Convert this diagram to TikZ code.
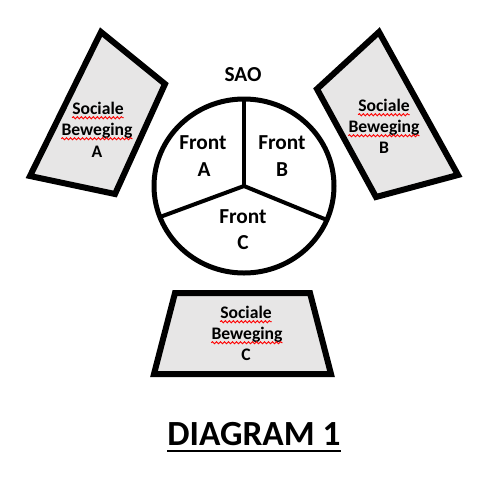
\documentclass[tikz,border=0pt]{standalone}
\usepackage{fontspec}
\setmainfont{Carlito}
\usetikzlibrary{decorations.pathmorphing}
\definecolor{panelgray}{HTML}{E7E6E6}
\begin{document}
\begin{tikzpicture}[x=0.75pt,y=-0.75pt,
  panel/.style={draw=black, line width=4.5pt, fill=panelgray, line join=miter},
  ringfill/.style={fill=white},
  ringline/.style={draw=black, line width=3.75pt},
  divider/.style={draw=black, line width=3pt},
  word/.style={font=\bfseries\fontsize{13.2}{15}\selectfont, inner sep=0pt, anchor=base},
  frontlbl/.style={font=\bfseries\fontsize{16}{20}\selectfont, inner sep=0pt, anchor=base},
  titlelbl/.style={font=\bfseries\fontsize{26.5}{30}\selectfont, inner sep=0pt, anchor=base},
  squiggle/.style={draw=red, line width=0.7pt, decorate, decoration={snake, amplitude=0.8pt, segment length=3pt}}
]
\useasboundingbox (0,0) rectangle (479,476);

% panels
\draw[panel] (101,32) -- (165,84) -- (115,194) -- (30,176) -- cycle;
\draw[panel] (379,32) -- (458,175) -- (376,197) -- (317,89) -- cycle;
\draw[panel] (175,293) -- (310,293) -- (331,374) -- (154,374) -- cycle;

% circle
\coordinate (ctr) at (244,186);
\coordinate (dtop) at (244,99);
\coordinate (dleft) at (160,217);
\coordinate (dright) at (327,220);
\fill[ringfill] (ctr) ellipse [x radius=67.5pt, y radius=65.25pt];
\draw[divider] (ctr) -- (dtop);
\draw[divider] (ctr) -- (dleft);
\draw[divider] (ctr) -- (dright);
\draw[ringline] (ctr) ellipse [x radius=67.5pt, y radius=65.25pt];

% SAO
\node[frontlbl] (sao) at (243,81) {SAO};

% fronts
\node[frontlbl] (fa1) at (203,149) {Front};
\node[frontlbl] (fa2) at (204,176) {A};
\node[frontlbl] (fb1) at (282,149) {Front};
\node[frontlbl] (fb2) at (282,176) {B};
\node[frontlbl] (fc1) at (243,223) {Front};
\node[frontlbl] (fc2) at (243,249) {C};

% panel A text
\node[word] (sa1) at (98,114) {Sociale};
\node[word] (sa2) at (97,135) {Beweging};
\node[word] (sa3) at (97,157) {A};
% panel B text
\node[word] (sb1) at (384,111) {Sociale};
\node[word] (sb2) at (384,132) {Beweging};
\node[word] (sb3) at (384,153) {B};
% panel C text
\node[word] (sc1) at (246,318) {Sociale};
\node[word] (sc2) at (247,339) {Beweging};
\node[word] (sc3) at (246,360) {C};

% spell-check squiggles
\foreach \n in {sa1,sa2,sb1,sb2,sc1,sc2}{
  \draw[squiggle] ([yshift=-2.8pt]\n.base west) -- ([yshift=-2.8pt]\n.base east);
}

% title
\node[titlelbl] (title) at (254,445) {DIAGRAM 1};
\draw[line width=2pt] ([yshift=-4.5pt]title.base west) -- ([yshift=-4.5pt]title.base east);
\end{tikzpicture}
\end{document}
